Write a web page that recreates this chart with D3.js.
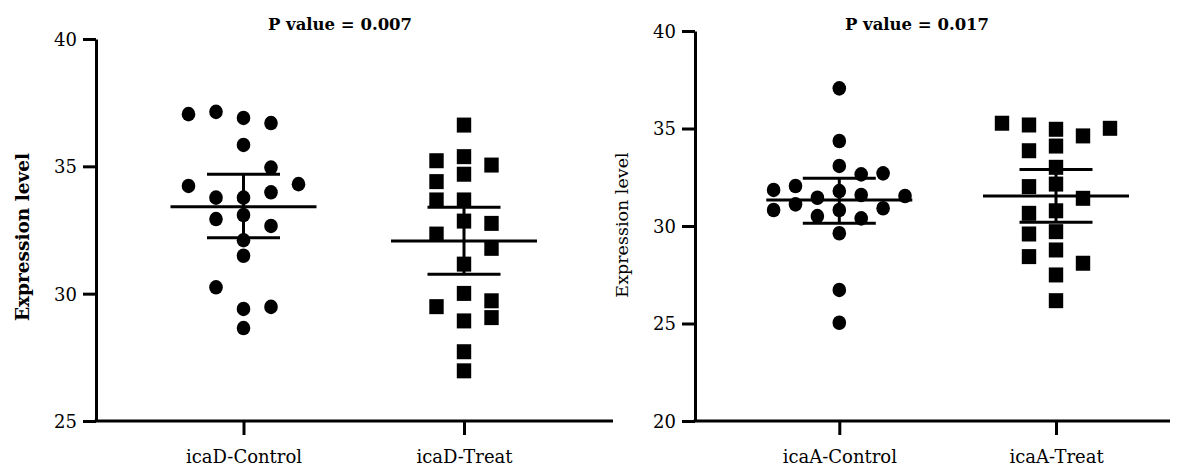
<!DOCTYPE html>
<html lang="en">
<head>
  <meta charset="UTF-8">
  <title>icaD / icaA expression</title>
  <script src="https://d3js.org/d3.v7.min.js"></script>
  <style>
    body {
      margin: 0;
      background: white;
    }
    text {
      font-family: "DejaVu Serif", serif;
      fill: #000;
    }
  </style>
</head>
<body>
  <div id="chart"></div>
  <script>
    // values (expression level), one array per group
    const icaDCategories = ["icaD-Control", "icaD-Treat"];
    const icaDControl = [37.05, 37.14, 36.9, 36.7, 35.84, 34.95, 34.23, 34.3, 33.77, 33.77,
                         33.98, 32.93, 33.09, 32.66, 32.1, 31.49, 30.25, 29.4, 29.48, 28.65];
    const icaDControlSlot = [-2, -1, 0, 1, 0, 1, -2, 2, -1, 0, 1, -1, 0, 1, 0, 0, -1, 0, 1, 0];
    const icaDTreat = [36.62, 35.22, 35.38, 35.05, 34.69, 34.4, 33.68, 33.68, 32.85, 32.76,
                       32.34, 31.78, 31.16, 30.01, 29.49, 29.72, 29.06, 28.93, 27.72, 26.97];
    const icaDTreatSlot = [0, -1, 0, 1, 0, -1, -1, 0, 0, 1, -1, 1, 0, 0, -1, 1, 1, 0, 0, 0];
    const icaDMean = [33.41, 32.07];
    const icaDLow = [32.2, 30.76];
    const icaDHigh = [34.69, 33.39];

    const icaACategories = ["icaA-Control", "icaA-Treat"];
    const icaAControl = [37.06, 34.36, 33.08, 32.65, 32.7, 31.85, 32.05, 31.45, 31.79, 31.59,
                         31.54, 30.82, 31.11, 30.82, 30.91, 30.51, 30.39, 29.63, 26.72, 25.04];
    const icaAControlSlot = [0, 0, 0, 1, 2, -3, -2, -1, 0, 1, 3, -3, -2, 0, 2, -1, 1, 0, 0, 0];
    const icaATreat = [35.27, 35.18, 34.96, 34.62, 35.01, 33.86, 34.1, 33.01, 32.15, 32.02,
                       31.42, 30.78, 30.65, 29.59, 29.71, 28.77, 28.43, 28.09, 27.49, 26.17];
    const icaATreatSlot = [-2, -1, 0, 1, 2, -1, 0, 0, 0, -1, 1, 0, -1, -1, 0, 0, -1, 1, 0, 0];
    const icaAMean = [31.33, 31.54];
    const icaALow = [30.14, 30.19];
    const icaAHigh = [32.45, 32.9];

    const svg = d3.select("#chart").append("svg")
      .attr("width", 1189)
      .attr("height", 467);

    function drawPanel(p) {
      const g = svg.append("g");

      const y = d3.scaleLinear().domain(p.domain).range([p.bottom, p.top]);
      const x = d3.scalePoint().domain(p.categories).range(p.centers);

      // y axis
      const yAxis = g.append("g")
        .attr("transform", `translate(${p.left},0)`)
        .call(d3.axisLeft(y).tickValues(p.ticks).tickSize(13).tickSizeOuter(0).tickPadding(6));
      yAxis.selectAll("path, line").attr("stroke", "#000").attr("stroke-width", 3);
      yAxis.selectAll("text").style("font-size", "18px").attr("dy", "0.36em");

      // x axis, domain drawn by hand so it spans the whole panel
      const xAxis = g.append("g")
        .attr("transform", `translate(0,${p.bottom})`)
        .call(d3.axisBottom(x).tickSize(14).tickSizeOuter(0));
      xAxis.select(".domain").remove();
      xAxis.selectAll("line").attr("stroke", "#000").attr("stroke-width", 3);
      xAxis.selectAll("text").style("font-size", "18px").attr("y", 42).attr("dy", 0);
      g.append("line")
        .attr("x1", p.left - 1.5).attr("x2", p.right)
        .attr("y1", p.bottom).attr("y2", p.bottom)
        .attr("stroke", "#000").attr("stroke-width", 3);

      // points
      p.groups.forEach((grp, gi) => {
        const cx = x(p.categories[gi]);
        const pts = grp.values.map((v, i) => ({ v, s: grp.slot[i] }));
        if (grp.shape === "circle") {
          g.append("g").selectAll("ellipse")
            .data(pts)
            .join("ellipse")
            .attr("cx", d => cx + d.s * grp.slotWidth)
            .attr("cy", d => y(d.v))
            .attr("rx", 6.8)
            .attr("ry", 7.3)
            .attr("fill", "#000");
        } else {
          g.append("g").selectAll("rect")
            .data(pts)
            .join("rect")
            .attr("x", d => cx + d.s * grp.slotWidth - 7.2)
            .attr("y", d => y(d.v) - 7.5)
            .attr("width", 14.4)
            .attr("height", 15)
            .attr("fill", "#000");
        }
      });

      // mean and 95% CI
      const stats = g.append("g").attr("stroke", "#000").attr("stroke-width", 3);
      p.categories.forEach((c, i) => {
        const cx = x(c);
        stats.append("line")
          .attr("x1", cx - 73).attr("x2", cx + 73)
          .attr("y1", y(p.mean[i])).attr("y2", y(p.mean[i]));
        stats.append("line")
          .attr("x1", cx).attr("x2", cx)
          .attr("y1", y(p.low[i])).attr("y2", y(p.high[i]));
        [p.low[i], p.high[i]].forEach(v => {
          stats.append("line")
            .attr("x1", cx - 36.5).attr("x2", cx + 36.5)
            .attr("y1", y(v)).attr("y2", y(v));
        });
      });

      // title
      g.append("text")
        .attr("x", p.titleX)
        .attr("y", 30)
        .attr("text-anchor", "middle")
        .style("font-size", "16.5px")
        .style("font-weight", "bold")
        .text(p.title);

      // y label
      g.append("text")
        .attr("transform", `translate(${p.yLabelX},${p.yLabelY}) rotate(-90)`)
        .attr("text-anchor", "middle")
        .style("font-size", p.yLabelBold ? "18.5px" : "17.5px")
        .style("font-weight", p.yLabelBold ? "bold" : "normal")
        .text("Expression level");
    }

    drawPanel({
      left: 96, right: 613, top: 39, bottom: 421,
      domain: [25, 40], ticks: [25, 30, 35, 40],
      categories: icaDCategories, centers: [243.5, 464],
      groups: [
        { values: icaDControl, slot: icaDControlSlot, shape: "circle", slotWidth: 27.5 },
        { values: icaDTreat, slot: icaDTreatSlot, shape: "square", slotWidth: 27.5 }
      ],
      mean: icaDMean, low: icaDLow, high: icaDHigh,
      title: "P value = 0.007", titleX: 340,
      yLabelX: 29, yLabelY: 237, yLabelBold: true
    });

    drawPanel({
      left: 695, right: 1170, top: 31, bottom: 421,
      domain: [20, 40], ticks: [20, 25, 30, 35, 40],
      categories: icaACategories, centers: [839.3, 1056],
      groups: [
        { values: icaAControl, slot: icaAControlSlot, shape: "circle", slotWidth: 21.9 },
        { values: icaATreat, slot: icaATreatSlot, shape: "square", slotWidth: 27 }
      ],
      mean: icaAMean, low: icaALow, high: icaAHigh,
      title: "P value = 0.017", titleX: 917,
      yLabelX: 628, yLabelY: 225, yLabelBold: false
    });
  </script>
</body>
</html>
